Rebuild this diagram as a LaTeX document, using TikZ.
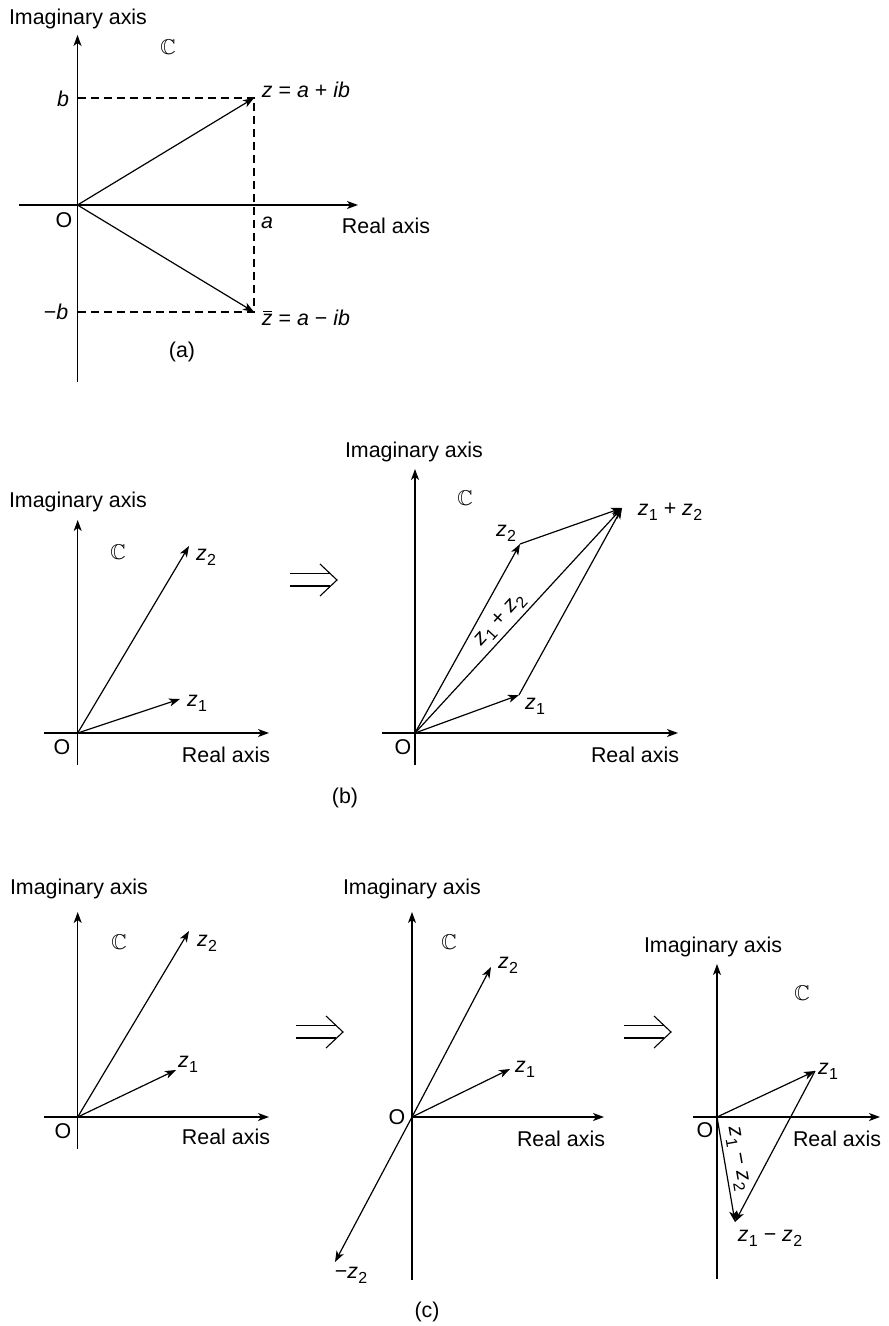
\documentclass[tikz,border=0pt]{standalone}
\usepackage{fontspec}
\setmainfont{Liberation Sans}
\usepackage{amssymb}
\usetikzlibrary{arrows.meta}
\newcommand{\zs}[1]{\textit{z}\kern0.2pt\raisebox{-0.45ex}{\fontsize{8}{8}\selectfont #1}}
\newcommand{\zbarsym}{\textit{z}\llap{\raisebox{1.25ex}{\rule{0.42em}{0.45pt}}\kern0.02em}}
\tikzset{
 ax/.style={line width=0.65pt, -{Stealth[length=5.5pt,width=4pt,inset=1.5pt]}},
 vec/.style={line width=0.6pt, -{Stealth[length=5.5pt,width=4pt,inset=1.5pt]}},
 dsh/.style={line width=0.6pt, dash pattern=on 4pt off 2.5pt},
 lbl/.style={inner sep=0pt, font=\fontsize{10.7}{12}\selectfont},
 implies/.style={line width=0.55pt},
 plain/.style={line width=0.65pt}
}
\begin{document}
\begin{tikzpicture}[x=0.5pt,y=-0.5pt]
\useasboundingbox (0,0) rectangle (888,1326);
% ================= (a) =================
\coordinate (Oa) at (77.5,205);
\coordinate (aVb) at (77.5,382);
\coordinate (aVt) at (77.5,35);
\coordinate (aHl) at (19,205);
\coordinate (aHr) at (358,205);
\coordinate (Za) at (254,98);
\coordinate (Zc) at (254,312);
\coordinate (Ba) at (77.5,98);
\coordinate (Bm) at (77.5,312);
\draw[ax] (aVb) -- (aVt);
\draw[ax] (aHl) -- (aHr);
\draw[dsh] (Ba) -- (Za) -- (Zc) -- (Bm);
\draw[vec] (Oa) -- (Za);
\draw[vec] (Oa) -- (Zc);
\node[lbl] (aIm) at (78,19) {Imaginary axis};
\node[lbl] (aC) at (168,47) {$\mathbb{C}$};
\node[lbl] (aZ) at (306,89.5) {\textit{z} = \textit{a} + \textit{ib}};
\node[lbl] (aZb) at (306,318) {\zbarsym{} = \textit{a} − \textit{ib}};
\node[lbl] (ab) at (63,99) {\textit{b}};
\node[lbl] (amb) at (56,312) {−\textit{b}};
\node[lbl] (aa) at (267,223) {\textit{a}};
\node[lbl] (aO) at (64,220) {O};
\node[lbl] (aRe) at (386,226) {Real axis};
\node[lbl] (acap) at (182,352) {(a)};
% ================= (b) left =================
\coordinate (Ob1) at (77.7,733);
\draw[ax] (77.7,765) -- (77.7,520);
\draw[ax] (44,733) -- (269,733);
\coordinate (b1z2) at (189,546);
\coordinate (b1z1) at (180,699);
\draw[vec] (Ob1) -- (b1z2);
\draw[vec] (Ob1) -- (b1z1);
\node[lbl] (b1Im) at (78,502) {Imaginary axis};
\node[lbl] (b1C) at (118,552) {$\mathbb{C}$};
\node[lbl] (b1Lz2) at (206,557) {\zs{2}};
\node[lbl] (b1Lz1) at (197,703) {\zs{1}};
\node[lbl] (b1O) at (62,747) {O};
\node[lbl] (b1Re) at (226,755) {Real axis};
% implies (b)
\begin{scope}[shift={(290,580)}]
\draw[implies] (0,-6.5) -- (40,-6.5);
\draw[implies] (0,6) -- (40,6);
\draw[implies] (30,-16) -- (47,0) -- (30,16);
\end{scope}
% ================= (b) right =================
\coordinate (Ob2) at (415,733);
\draw[ax] (415,765) -- (415,469);
\draw[ax] (382,733) -- (678,733);
\coordinate (b2z1) at (519,695);
\coordinate (b2z2) at (520,544);
\coordinate (b2s) at (622,508);
\draw[vec] (Ob2) -- (b2z1);
\draw[vec] (Ob2) -- (b2z2);
\draw[vec] (Ob2) -- (b2s) node[lbl,pos=0.46,sloped,above=2pt] (b2diag) {\zs{1} + \zs{2}};
\draw[vec] (b2z2) -- (b2s);
\draw[vec] (b2z1) -- (b2s);
\node[lbl] (b2Im) at (414,452) {Imaginary axis};
\node[lbl] (b2C) at (465,498) {$\mathbb{C}$};
\node[lbl] (b2Lz2) at (506,533) {\zs{2}};
\node[lbl] (b2Lz1) at (535,706) {\zs{1}};
\node[lbl] (b2Ls) at (670,512) {\zs{1} + \zs{2}};
\node[lbl] (b2O) at (403,747) {O};
\node[lbl] (b2Re) at (635,755) {Real axis};
\node[lbl] (bcap) at (345,798) {(b)};
% ================= (c) left =================
\coordinate (Oc1) at (77.7,1117);
\draw[ax] (77.7,1149) -- (77.7,912);
\draw[ax] (44,1117) -- (269,1117);
\coordinate (c1z2) at (189,931);
\coordinate (c1z1) at (176,1070);
\draw[vec] (Oc1) -- (c1z2);
\draw[vec] (Oc1) -- (c1z1);
\node[lbl] (c1Im) at (79,889) {Imaginary axis};
\node[lbl] (c1C) at (119,942) {$\mathbb{C}$};
\node[lbl] (c1Lz2) at (207,943) {\zs{2}};
\node[lbl] (c1Lz1) at (188,1064) {\zs{1}};
\node[lbl] (c1O) at (63,1131) {O};
\node[lbl] (c1Re) at (226,1137) {Real axis};
% implies (c1)
\begin{scope}[shift={(296,1032)}]
\draw[implies] (0,-6.5) -- (40,-6.5);
\draw[implies] (0,6) -- (40,6);
\draw[implies] (30,-16) -- (47,0) -- (30,16);
\end{scope}
% ================= (c) middle =================
\coordinate (Oc2) at (412,1117);
\draw[plain] (412,1280) -- (412,1117);
\draw[ax] (412,1117) -- (412,912);
\draw[ax] (412,1117) -- (604,1117);
\coordinate (c2z2) at (491,967);
\coordinate (c2z1) at (510,1069);
\coordinate (c2mz2) at (335,1262);
\draw[vec] (Oc2) -- (c2z2);
\draw[vec] (Oc2) -- (c2z1);
\draw[vec] (Oc2) -- (c2mz2);
\node[lbl] (c2Im) at (412,889) {Imaginary axis};
\node[lbl] (c2C) at (449,942) {$\mathbb{C}$};
\node[lbl] (c2Lz2) at (508,965) {\zs{2}};
\node[lbl] (c2Lz1) at (525,1069) {\zs{1}};
\node[lbl] (c2O) at (397,1117) {O};
\node[lbl] (c2Re) at (561,1139) {Real axis};
\node[lbl] (c2Lmz2) at (351,1275) {−\zs{2}};
\node[lbl] (ccap) at (427,1312) {(c)};
% implies (c2)
\begin{scope}[shift={(624,1032)}]
\draw[implies] (0,-6.5) -- (40,-6.5);
\draw[implies] (0,6) -- (40,6);
\draw[implies] (30,-16) -- (47,0) -- (30,16);
\end{scope}
% ================= (c) right =================
\coordinate (Oc3) at (717,1117);
\draw[ax] (717,1279) -- (717,964);
\draw[ax] (693,1117) -- (880,1117);
\coordinate (c3z1) at (815,1071);
\coordinate (c3d) at (735,1222);
\draw[vec] (Oc3) -- (c3z1);
\draw[vec] (c3z1) -- (c3d);
\draw[vec] (Oc3) -- (c3d) node[lbl,pos=0.42,sloped,above=2pt] (c3diag) {\zs{1} − \zs{2}};
\node[lbl] (c3Im) at (713,947) {Imaginary axis};
\node[lbl] (c3C) at (802,993) {$\mathbb{C}$};
\node[lbl] (c3Lz1) at (828,1071) {\zs{1}};
\node[lbl] (c3O) at (705,1130) {O};
\node[lbl] (c3Re) at (837,1139) {Real axis};
\node[lbl] (c3Ld) at (770,1238) {\zs{1} − \zs{2}};
\end{tikzpicture}
\end{document}
